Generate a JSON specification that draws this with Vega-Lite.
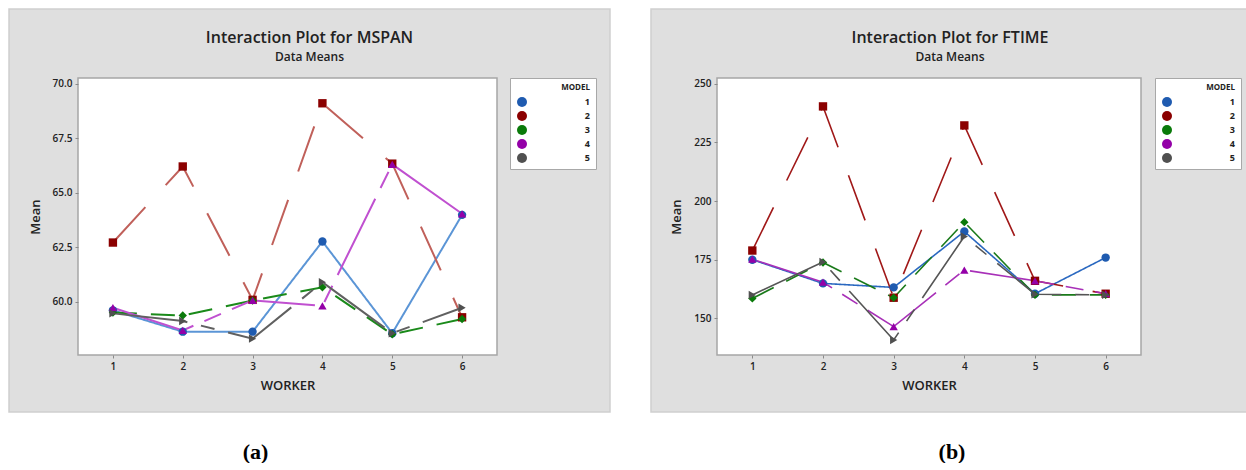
{
  "$schema": "https://vega.github.io/schema/vega-lite/v6.json",
  "background": "white",
  "padding": {"left": 8, "top": 8, "right": 0, "bottom": 0},
  "datasets": {
    "mspan": [
      {"MODEL": "1", "WORKER": 1, "Mean": 59.6}, {"MODEL": "1", "WORKER": 2, "Mean": 58.62}, {"MODEL": "1", "WORKER": 3, "Mean": 58.62}, {"MODEL": "1", "WORKER": 4, "Mean": 62.76}, {"MODEL": "1", "WORKER": 5, "Mean": 58.55}, {"MODEL": "1", "WORKER": 6, "Mean": 63.98},
      {"MODEL": "2", "WORKER": 1, "Mean": 62.71}, {"MODEL": "2", "WORKER": 2, "Mean": 66.2}, {"MODEL": "2", "WORKER": 3, "Mean": 60.08}, {"MODEL": "2", "WORKER": 4, "Mean": 69.1}, {"MODEL": "2", "WORKER": 5, "Mean": 66.33}, {"MODEL": "2", "WORKER": 6, "Mean": 59.28},
      {"MODEL": "3", "WORKER": 1, "Mean": 59.5}, {"MODEL": "3", "WORKER": 2, "Mean": 59.36}, {"MODEL": "3", "WORKER": 3, "Mean": 60.05}, {"MODEL": "3", "WORKER": 4, "Mean": 60.66}, {"MODEL": "3", "WORKER": 5, "Mean": 58.5}, {"MODEL": "3", "WORKER": 6, "Mean": 59.2},
      {"MODEL": "4", "WORKER": 1, "Mean": 59.72}, {"MODEL": "4", "WORKER": 2, "Mean": 58.68}, {"MODEL": "4", "WORKER": 3, "Mean": 60.06}, {"MODEL": "4", "WORKER": 4, "Mean": 59.8}, {"MODEL": "4", "WORKER": 5, "Mean": 66.3}, {"MODEL": "4", "WORKER": 6, "Mean": 64.03},
      {"MODEL": "5", "WORKER": 1, "Mean": 59.46}, {"MODEL": "5", "WORKER": 2, "Mean": 59.11}, {"MODEL": "5", "WORKER": 3, "Mean": 58.3}, {"MODEL": "5", "WORKER": 4, "Mean": 60.89}, {"MODEL": "5", "WORKER": 5, "Mean": 58.55}, {"MODEL": "5", "WORKER": 6, "Mean": 59.72}
    ],
    "ftime": [
      {"MODEL": "1", "WORKER": 1, "Mean": 175}, {"MODEL": "1", "WORKER": 2, "Mean": 164.9}, {"MODEL": "1", "WORKER": 3, "Mean": 163.2}, {"MODEL": "1", "WORKER": 4, "Mean": 187}, {"MODEL": "1", "WORKER": 5, "Mean": 160.5}, {"MODEL": "1", "WORKER": 6, "Mean": 175.9},
      {"MODEL": "2", "WORKER": 1, "Mean": 178.9}, {"MODEL": "2", "WORKER": 2, "Mean": 240.3}, {"MODEL": "2", "WORKER": 3, "Mean": 158.8}, {"MODEL": "2", "WORKER": 4, "Mean": 232.2}, {"MODEL": "2", "WORKER": 5, "Mean": 166}, {"MODEL": "2", "WORKER": 6, "Mean": 160.5},
      {"MODEL": "3", "WORKER": 1, "Mean": 158.5}, {"MODEL": "3", "WORKER": 2, "Mean": 173.8}, {"MODEL": "3", "WORKER": 3, "Mean": 158.8}, {"MODEL": "3", "WORKER": 4, "Mean": 191}, {"MODEL": "3", "WORKER": 5, "Mean": 160}, {"MODEL": "3", "WORKER": 6, "Mean": 160},
      {"MODEL": "4", "WORKER": 1, "Mean": 175.2}, {"MODEL": "4", "WORKER": 2, "Mean": 165.4}, {"MODEL": "4", "WORKER": 3, "Mean": 146.5}, {"MODEL": "4", "WORKER": 4, "Mean": 170.6}, {"MODEL": "4", "WORKER": 5, "Mean": 166}, {"MODEL": "4", "WORKER": 6, "Mean": 160.5},
      {"MODEL": "5", "WORKER": 1, "Mean": 160}, {"MODEL": "5", "WORKER": 2, "Mean": 174}, {"MODEL": "5", "WORKER": 3, "Mean": 140.8}, {"MODEL": "5", "WORKER": 4, "Mean": 184.9}, {"MODEL": "5", "WORKER": 5, "Mean": 160.3}, {"MODEL": "5", "WORKER": 6, "Mean": 160}
    ]
  },
  "spacing": 39,
  "resolve": {"scale": {"x": "independent", "y": "independent", "color": "independent", "stroke": "independent", "shape": "independent", "strokeDash": "independent"}, "legend": {"color": "independent"}},
  "hconcat": [
    {
      "title": {"text": "(a)", "orient": "bottom", "anchor": "middle", "frame": "bounds", "dx": -54, "offset": 29, "font": "Liberation Serif", "fontSize": 22, "fontWeight": "bold", "color": "#000"},
      "resolve": {"scale": {"color": "independent", "stroke": "independent", "shape": "independent", "strokeDash": "independent"}, "legend": {"color": "independent"}},
      "vconcat": [
        {
          "width": 419,
          "height": 277,
          "title": {"text": "Interaction Plot for MSPAN", "subtitle": "Data Means", "frame": "bounds", "anchor": "middle", "offset": -55, "font": "Open Sans", "fontSize": 16, "fontWeight": 600, "color": "#222", "subtitleFont": "Open Sans", "subtitleFontSize": 12, "subtitleFontWeight": 600, "subtitleColor": "#222", "subtitlePadding": 6},
          "layer": [
            {
              "data": {"values": [{}]},
              "mark": {"type": "rect", "fill": "#dfdfdf", "stroke": "#cfcfcf", "strokeWidth": 1.5},
              "encoding": {
                "x": {"datum": -0.488, "type": "quantitative", "scale": {"domain": [0.5, 6.5], "nice": false, "zero": false}, "axis": {"title": "WORKER", "values": [1, 2, 3, 4, 5, 6], "format": "d", "zindex": 2}},
                "x2": {"datum": 8.118},
                "y": {"datum": 54.93, "type": "quantitative", "scale": {"domain": [57.55, 70.26], "nice": false, "zero": false}, "axis": {"title": "Mean", "values": [60, 62.5, 65, 67.5, 70], "format": ".1f", "zindex": 2}},
                "y2": {"datum": 73.43}
              }
            },
            {
              "data": {"values": [{}]},
              "mark": {"type": "rect", "fill": "white", "stroke": "#a6a6a6", "strokeWidth": 1.5},
              "encoding": {
                "x": {"datum": 0.5, "type": "quantitative", "scale": {"domain": [0.5, 6.5], "nice": false, "zero": false}, "axis": {"title": "WORKER", "values": [1, 2, 3, 4, 5, 6], "format": "d", "zindex": 2}},
                "x2": {"datum": 6.5},
                "y": {"datum": 57.55, "type": "quantitative", "scale": {"domain": [57.55, 70.26], "nice": false, "zero": false}, "axis": {"title": "Mean", "values": [60, 62.5, 65, 67.5, 70], "format": ".1f", "zindex": 2}},
                "y2": {"datum": 70.26}
              }
            },
            {
              "data": {"name": "mspan"},
              "mark": {"type": "line", "strokeWidth": 2},
              "encoding": {
                "x": {"field": "WORKER", "type": "quantitative", "scale": {"domain": [0.5, 6.5], "nice": false, "zero": false}, "axis": {"title": "WORKER", "values": [1, 2, 3, 4, 5, 6], "format": "d", "zindex": 2}},
                "y": {"field": "Mean", "type": "quantitative", "scale": {"domain": [57.55, 70.26], "nice": false, "zero": false}, "axis": {"title": "Mean", "values": [60, 62.5, 65, 67.5, 70], "format": ".1f", "zindex": 2}},
                "stroke": {"field": "MODEL", "type": "nominal", "scale": {"domain": ["5", "4", "3", "2", "1"], "range": ["#606060", "#c050d0", "#1a8a1a", "#c0605a", "#5b95d6"]}, "legend": null},
                "strokeDash": {"field": "MODEL", "type": "nominal", "scale": {"domain": ["5", "4", "3", "2", "1"], "range": [[75, 14, 14, 14], [85, 12, 18, 12], [24, 14], [48, 30], [1, 0]]}, "legend": null}
              }
            },
            {
              "data": {"name": "mspan"},
              "mark": {"type": "point", "filled": true, "opacity": 1, "size": 70},
              "encoding": {
                "x": {"field": "WORKER", "type": "quantitative", "scale": {"domain": [0.5, 6.5], "nice": false, "zero": false}, "axis": {"title": "WORKER", "values": [1, 2, 3, 4, 5, 6], "format": "d", "zindex": 2}},
                "y": {"field": "Mean", "type": "quantitative", "scale": {"domain": [57.55, 70.26], "nice": false, "zero": false}, "axis": {"title": "Mean", "values": [60, 62.5, 65, 67.5, 70], "format": ".1f", "zindex": 2}},
                "shape": {"field": "MODEL", "type": "nominal", "scale": {"domain": ["5", "4", "3", "2", "1"], "range": ["triangle-right", "triangle-up", "diamond", "square", "circle"]}, "legend": null},
                "color": {"field": "MODEL", "type": "nominal", "scale": {"domain": ["1", "2", "3", "4", "5"], "range": ["#1f5bb0", "#8b0000", "#0a7a0a", "#9400a8", "#505050"]},
                  "legend": {
                    "title": "MODEL", "orient": "none", "legendX": 432, "legendY": 0, "zindex": 3, "fillColor": "white", "strokeColor": "#a8a8a8", "padding": 6,
                    "titleFont": "Open Sans", "titleFontSize": 8, "titleFontWeight": "bold", "titleAnchor": "end", "titleColor": "#222", "titlePadding": 4,
                    "labelFont": "Open Sans", "labelFontSize": 9, "labelFontWeight": "bold", "labelAlign": "right", "labelOffset": 62, "labelColor": "#222",
                    "symbolSize": 100, "rowPadding": 3,
                    "encode": {"symbols": {"update": {
                      "shape": {"value": {"expr": "datum.value==='1'?'M-1.6,0H4.4M2.2,0L1.97,0.57L1.4,0.8L0.83,0.57L0.6,0L0.83,-0.57L1.4,-0.8L1.97,-0.57Z':datum.value==='2'?'M-1.6,0H4.4M0.65,-0.75H2.15V0.75H0.65Z':datum.value==='3'?'M-1.6,0H4.4M1.4,-1L2.25,0L1.4,1L0.55,0Z':datum.value==='4'?'M-1.6,0H4.4M1.4,-0.95L2.3,0.7H0.5Z':'M-1.6,0H4.4M0.6,-0.9L2.35,0L0.6,0.9Z'"}},
                      "stroke": {"value": {"expr": "datum.value==='1'?'#3a78c8':datum.value==='2'?'#a02020':datum.value==='3'?'#1a8a1a':datum.value==='4'?'#b040c0':'#606060'"}},
                      "fill": {"value": {"expr": "datum.value==='1'?'#1f5bb0':datum.value==='2'?'#8b0000':datum.value==='3'?'#0a7a0a':datum.value==='4'?'#9400a8':'#505050'"}},
                      "opacity": {"value": 1},
                      "strokeWidth": {"value": 1.5}
                    }}}
                  }
                }
              }
            }
          ]
        }
      ]
    },
    {
      "title": {"text": "(b)", "orient": "bottom", "anchor": "middle", "frame": "bounds", "dx": 2, "offset": 29, "font": "Liberation Serif", "fontSize": 22, "fontWeight": "bold", "color": "#000"},
      "resolve": {"scale": {"color": "independent", "stroke": "independent", "shape": "independent", "strokeDash": "independent"}, "legend": {"color": "independent"}},
      "vconcat": [
        {
          "width": 424,
          "height": 277,
          "title": {"text": "Interaction Plot for FTIME", "subtitle": "Data Means", "frame": "bounds", "anchor": "middle", "offset": -55, "font": "Open Sans", "fontSize": 16, "fontWeight": 600, "color": "#222", "subtitleFont": "Open Sans", "subtitleFontSize": 12, "subtitleFontWeight": 600, "subtitleColor": "#222", "subtitlePadding": 6},
          "layer": [
            {
              "data": {"values": [{}]},
              "mark": {"type": "rect", "fill": "#dfdfdf", "stroke": "#cfcfcf", "strokeWidth": 1.5},
              "encoding": {
                "x": {"datum": -0.434, "type": "quantitative", "scale": {"domain": [0.5, 6.5], "nice": false, "zero": false}, "axis": {"title": "WORKER", "values": [1, 2, 3, 4, 5, 6], "format": "d", "zindex": 2}},
                "x2": {"datum": 8.028},
                "y": {"datum": 110.1, "type": "quantitative", "scale": {"domain": [134.4, 252.4], "nice": false, "zero": false}, "axis": {"title": "Mean", "values": [150, 175, 200, 225, 250], "format": "d", "zindex": 2}},
                "y2": {"datum": 281.8}
              }
            },
            {
              "data": {"values": [{}]},
              "mark": {"type": "rect", "fill": "white", "stroke": "#a6a6a6", "strokeWidth": 1.5},
              "encoding": {
                "x": {"datum": 0.5, "type": "quantitative", "scale": {"domain": [0.5, 6.5], "nice": false, "zero": false}, "axis": {"title": "WORKER", "values": [1, 2, 3, 4, 5, 6], "format": "d", "zindex": 2}},
                "x2": {"datum": 6.5},
                "y": {"datum": 134.4, "type": "quantitative", "scale": {"domain": [134.4, 252.4], "nice": false, "zero": false}, "axis": {"title": "Mean", "values": [150, 175, 200, 225, 250], "format": "d", "zindex": 2}},
                "y2": {"datum": 252.4}
              }
            },
            {
              "data": {"name": "ftime"},
              "mark": {"type": "line", "strokeWidth": 1.6},
              "encoding": {
                "x": {"field": "WORKER", "type": "quantitative", "scale": {"domain": [0.5, 6.5], "nice": false, "zero": false}, "axis": {"title": "WORKER", "values": [1, 2, 3, 4, 5, 6], "format": "d", "zindex": 2}},
                "y": {"field": "Mean", "type": "quantitative", "scale": {"domain": [134.4, 252.4], "nice": false, "zero": false}, "axis": {"title": "Mean", "values": [150, 175, 200, 225, 250], "format": "d", "zindex": 2}},
                "stroke": {"field": "MODEL", "type": "nominal", "scale": {"domain": ["5", "4", "3", "2", "1"], "range": ["#555555", "#a830b8", "#1a7a1a", "#a01818", "#2a68c0"]}, "legend": null},
                "strokeDash": {"field": "MODEL", "type": "nominal", "scale": {"domain": ["5", "4", "3", "2", "1"], "range": [[75, 14, 14, 14], [85, 12, 18, 12], [24, 14], [48, 30], [1, 0]]}, "legend": null}
              }
            },
            {
              "data": {"name": "ftime"},
              "mark": {"type": "point", "filled": true, "opacity": 1, "size": 70},
              "encoding": {
                "x": {"field": "WORKER", "type": "quantitative", "scale": {"domain": [0.5, 6.5], "nice": false, "zero": false}, "axis": {"title": "WORKER", "values": [1, 2, 3, 4, 5, 6], "format": "d", "zindex": 2}},
                "y": {"field": "Mean", "type": "quantitative", "scale": {"domain": [134.4, 252.4], "nice": false, "zero": false}, "axis": {"title": "Mean", "values": [150, 175, 200, 225, 250], "format": "d", "zindex": 2}},
                "shape": {"field": "MODEL", "type": "nominal", "scale": {"domain": ["5", "4", "3", "2", "1"], "range": ["triangle-right", "triangle-up", "diamond", "square", "circle"]}, "legend": null},
                "color": {"field": "MODEL", "type": "nominal", "scale": {"domain": ["1", "2", "3", "4", "5"], "range": ["#1f5bb0", "#8b0000", "#0a7a0a", "#9400a8", "#505050"]},
                  "legend": {
                    "title": "MODEL", "orient": "none", "legendX": 438, "legendY": 0, "zindex": 3, "fillColor": "white", "strokeColor": "#a8a8a8", "padding": 6,
                    "titleFont": "Open Sans", "titleFontSize": 8, "titleFontWeight": "bold", "titleAnchor": "end", "titleColor": "#222", "titlePadding": 4,
                    "labelFont": "Open Sans", "labelFontSize": 9, "labelFontWeight": "bold", "labelAlign": "right", "labelOffset": 62, "labelColor": "#222",
                    "symbolSize": 100, "rowPadding": 3,
                    "encode": {"symbols": {"update": {
                      "shape": {"value": {"expr": "datum.value==='1'?'M-1.6,0H4.4M2.2,0L1.97,0.57L1.4,0.8L0.83,0.57L0.6,0L0.83,-0.57L1.4,-0.8L1.97,-0.57Z':datum.value==='2'?'M-1.6,0H4.4M0.65,-0.75H2.15V0.75H0.65Z':datum.value==='3'?'M-1.6,0H4.4M1.4,-1L2.25,0L1.4,1L0.55,0Z':datum.value==='4'?'M-1.6,0H4.4M1.4,-0.95L2.3,0.7H0.5Z':'M-1.6,0H4.4M0.6,-0.9L2.35,0L0.6,0.9Z'"}},
                      "stroke": {"value": {"expr": "datum.value==='1'?'#2a68c0':datum.value==='2'?'#a01818':datum.value==='3'?'#1a7a1a':datum.value==='4'?'#a830b8':'#555555'"}},
                      "fill": {"value": {"expr": "datum.value==='1'?'#1f5bb0':datum.value==='2'?'#8b0000':datum.value==='3'?'#0a7a0a':datum.value==='4'?'#9400a8':'#505050'"}},
                      "opacity": {"value": 1},
                      "strokeWidth": {"value": 1.5}
                    }}}
                  }
                }
              }
            }
          ]
        }
      ]
    }
  ],
  "config": {
    "view": {"stroke": null},
    "axis": {"zindex": 2, "domain": false, "grid": false, "tickColor": "#8a8a8a", "tickSize": 3, "labelFont": "Open Sans", "labelFontSize": 10, "labelFontWeight": 600, "labelColor": "#222", "labelPadding": 3, "titleFont": "Open Sans", "titleFontSize": 13, "titleFontWeight": 600, "titleColor": "#222"},
    "axisX": {"titlePadding": 8},
    "axisY": {"titlePadding": 10},
    "legend": {"zindex": 3}
  }
}
